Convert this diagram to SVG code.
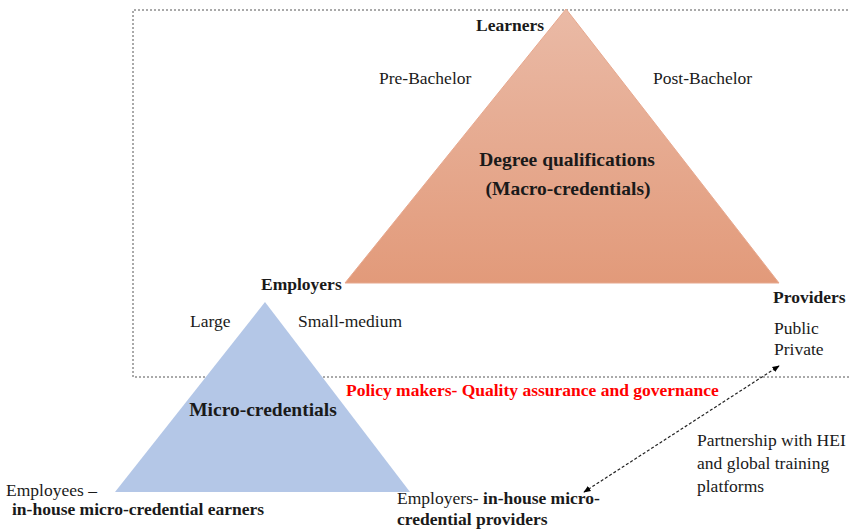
<svg xmlns="http://www.w3.org/2000/svg" width="849" height="529" viewBox="0 0 849 529" font-family="'Liberation Serif', 'DejaVu Serif', serif">
<defs>
<linearGradient id="gMacro" x1="0" y1="0" x2="0" y2="1">
<stop offset="0" stop-color="#EABAA6"/>
<stop offset="1" stop-color="#E29A7A"/>
</linearGradient>
<marker id="ah" viewBox="0 0 10 10" refX="9" refY="5" markerWidth="6" markerHeight="6" orient="auto-start-reverse">
<path d="M0,1 L10,5 L0,9 z" fill="#000"/>
</marker>
<style>
text{font-family:'Liberation Serif','DejaVu Serif',serif;font-size:17.5px;fill:#1a1a1a}
.b{font-weight:bold}
.h{font-weight:bold;font-size:19.5px}
.red{fill:#FF0000;font-weight:bold}
.frame{fill:none;stroke:#555;stroke-width:1;stroke-dasharray:2 2}
.conn{fill:none;stroke:#222;stroke-width:1.2;stroke-dasharray:3 2}
</style>
</defs>
<g id="scope">
<path class="frame" d="M860,10 H133 V377 H860"/>
</g>
<g id="macro">
<polygon points="566,9 345,283 779,283" fill="url(#gMacro)" stroke="#E7A88E" stroke-width="1"/>
<text class="h" x="567" y="166" text-anchor="middle">Degree qualifications</text>
<text class="h" x="568" y="195" text-anchor="middle">(Macro-credentials)</text>
</g>
<g id="micro">
<polygon points="265,302 115,492 410,492" fill="#B4C7E7"/>
<text class="h" x="263" y="416" text-anchor="middle">Micro-credentials</text>
</g>
<g id="learners">
<text class="b" x="476" y="31">Learners</text>
<text x="379" y="84">Pre-Bachelor</text>
<text x="653" y="84">Post-Bachelor</text>
</g>
<g id="employers">
<text class="b" x="261" y="290">Employers</text>
<text x="190" y="327">Large</text>
<text x="298" y="327">Small-medium</text>
</g>
<g id="providers">
<text class="b" x="773" y="303">Providers</text>
<text x="774" y="334">Public</text>
<text x="774" y="355">Private</text>
</g>
<g id="policy">
<text class="red" x="346" y="396">Policy makers- Quality assurance and governance</text>
</g>
<g id="employees">
<text x="6" y="496">Employees –</text>
<text class="b" x="12" y="515">in-house micro-credential earners</text>
</g>
<g id="inhouse-providers">
<text x="397" y="504">Employers- <tspan class="b">in-house micro-</tspan></text>
<text class="b" x="397" y="525">credential providers</text>
</g>
<g id="partnership">
<text x="697" y="446">Partnership with HEI</text>
<text x="697" y="469">and global training</text>
<text x="697" y="492">platforms</text>
</g>
<g id="connectors">
<line class="conn" x1="584" y1="492" x2="779" y2="366" marker-start="url(#ah)" marker-end="url(#ah)"/>
</g>
</svg>
